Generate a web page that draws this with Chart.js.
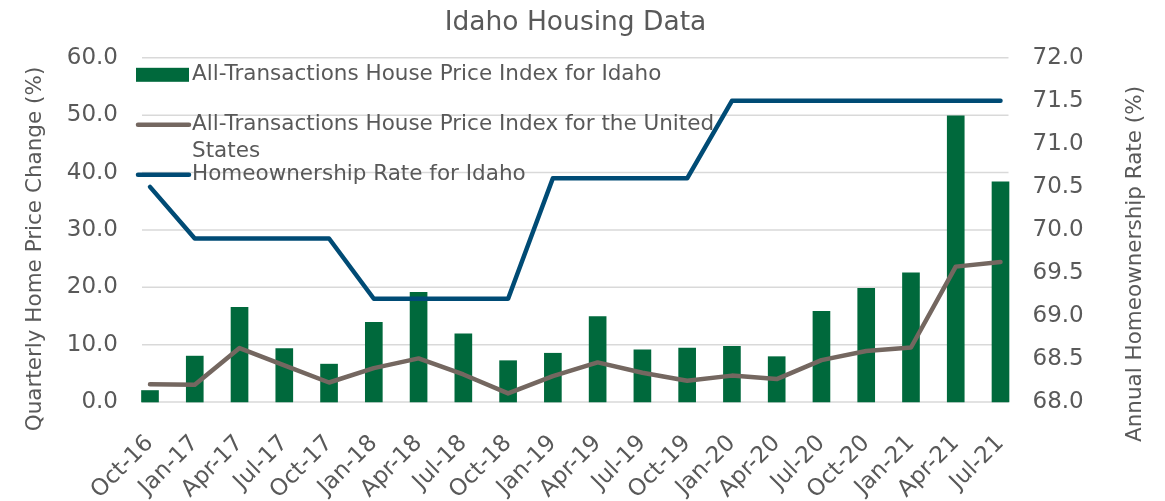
<!DOCTYPE html>
<html>
<head>
<meta charset="utf-8">
<title>Idaho Housing Data</title>
<script src="https://cdn.jsdelivr.net/npm/chart.js@4"></script>
<style>
    body { margin: 0; background: #fff; }
    #wrap { width: 1165px; height: 501px; position: relative; }
</style>
</head>
<body>
<div id="wrap"><canvas id="housingChart"></canvas></div>
<script>
const quarters = ['Oct-16', 'Jan-17', 'Apr-17', 'Jul-17', 'Oct-17', 'Jan-18', 'Apr-18', 'Jul-18', 'Oct-18', 'Jan-19',
    'Apr-19', 'Jul-19', 'Oct-19', 'Jan-20', 'Apr-20', 'Jul-20', 'Oct-20', 'Jan-21', 'Apr-21', 'Jul-21'];

// quarterly price change (%), left axis
const idahoHpi = [2.0, 8.0, 16.5, 9.3, 6.6, 13.9, 19.1, 11.9, 7.2, 8.5, 14.9, 9.1, 9.4, 9.7, 7.9, 15.8, 19.8, 22.5, 49.9, 38.4];
const usHpi = [3.1, 3.0, 9.4, 6.4, 3.4, 5.9, 7.6, 4.8, 1.5, 4.5, 6.9, 5.1, 3.7, 4.6, 4.0, 7.3, 8.9, 9.5, 23.6, 24.4];

// homeownership rate (%), right axis
const ownershipRate = [70.5, 69.9, 69.9, 69.9, 69.9, 69.2, 69.2, 69.2, 69.2, 70.6, 70.6, 70.6, 70.6, 71.5, 71.5, 71.5, 71.5, 71.5, 71.5, 71.5];

const leftTicks = { min: 0, max: 60, step: 10 };
const rightTicks = { min: 68, max: 72, step: 0.5 };

const chartTitle = 'Idaho Housing Data';
const leftAxisTitle = 'Quarterly Home Price Change (%)';
const rightAxisTitle = 'Annual Homeownership Rate (%)';

const textColor = '#595959';
const fontFamily = '"DejaVu Sans", Verdana, sans-serif';

// gridlines, legend (under the series) and axis titles
const overlay = {
    id: 'overlay',
    beforeDatasetsDraw(chart) {
        const { ctx, chartArea } = chart;
        const yScale = chart.scales.y;
        ctx.save();
        ctx.strokeStyle = '#d9d9d9';
        ctx.lineWidth = 1.5;
        yScale.ticks.forEach(tick => {
            const py = yScale.getPixelForValue(tick.value);
            ctx.beginPath();
            ctx.moveTo(chartArea.left - 8, py);
            ctx.lineTo(chartArea.right + 8, py);
            ctx.stroke();
        });

        // legend inside the plot, one entry per row
        const rowTops = [17, 67, 117];
        const x0 = chartArea.left - 14;
        const swatchW = 53;
        ctx.font = '21.5px ' + fontFamily;
        ctx.textBaseline = 'middle';
        ctx.textAlign = 'left';
        chart.data.datasets.forEach((ds, i) => {
            const cy = chartArea.top + rowTops[i];
            if (ds.type === 'bar') {
                ctx.fillStyle = ds.backgroundColor;
                ctx.fillRect(x0, cy - 7, swatchW, 14);
            } else {
                ctx.strokeStyle = ds.borderColor;
                ctx.lineWidth = 4.5;
                ctx.lineCap = 'round';
                ctx.beginPath();
                ctx.moveTo(x0 + 2, cy);
                ctx.lineTo(x0 + swatchW, cy);
                ctx.stroke();
            }
            ctx.fillStyle = textColor;
            const words = ds.label.split(' ');
            let line = '';
            let ly = cy;
            words.forEach(w => {
                const test = line ? line + ' ' + w : w;
                if (ctx.measureText(test).width > 545 && line) {
                    ctx.fillText(line, x0 + swatchW + 3, ly);
                    line = w;
                    ly += 27;
                } else {
                    line = test;
                }
            });
            ctx.fillText(line, x0 + swatchW + 3, ly);
        });
        ctx.restore();
    },
    afterDraw(chart) {
        const { ctx } = chart;
        ctx.save();
        ctx.fillStyle = textColor;
        ctx.textAlign = 'center';
        ctx.textBaseline = 'middle';
        ctx.font = '21.5px ' + fontFamily;
        ctx.translate(35, 249);
        ctx.rotate(-Math.PI / 2);
        ctx.fillText(leftAxisTitle, 0, 0);
        ctx.restore();

        ctx.save();
        ctx.fillStyle = textColor;
        ctx.textAlign = 'center';
        ctx.textBaseline = 'middle';
        ctx.font = '21.5px ' + fontFamily;
        ctx.translate(1135, 264);
        ctx.rotate(-Math.PI / 2);
        ctx.fillText(rightAxisTitle, 0, 0);
        ctx.restore();
    }
};

const ctx = document.getElementById('housingChart').getContext('2d');
new Chart(ctx, {
    data: {
        labels: quarters,
        datasets: [
            {
                type: 'bar',
                label: 'All-Transactions House Price Index for Idaho',
                data: idahoHpi,
                yAxisID: 'y',
                backgroundColor: '#00693c',
                barThickness: 17,
                clip: false,
                order: 10
            },
            {
                type: 'line',
                label: 'All-Transactions House Price Index for the United States',
                data: usHpi,
                yAxisID: 'y',
                borderColor: '#746760',
                borderWidth: 4.5,
                borderCapStyle: 'round',
                borderJoinStyle: 'round',
                pointRadius: 0,
                tension: 0,
                clip: false,
                order: 2
            },
            {
                type: 'line',
                label: 'Homeownership Rate for Idaho',
                data: ownershipRate,
                yAxisID: 'y1',
                borderColor: '#004b75',
                borderWidth: 4.5,
                borderCapStyle: 'round',
                borderJoinStyle: 'round',
                pointRadius: 0,
                tension: 0,
                clip: false,
                order: 1
            }
        ]
    },
    options: {
        responsive: true,
        maintainAspectRatio: false,
        animation: false,
        layout: { padding: { top: 0, right: 14, bottom: 0, left: 0 } },
        plugins: {
            legend: { display: false },
            tooltip: { enabled: false },
            title: {
                display: true,
                text: chartTitle,
                color: textColor,
                font: { family: fontFamily, size: 26.5, weight: 'normal' },
                padding: { top: 7, bottom: 19 }
            }
        },
        scales: {
            x: {
                type: 'category',
                offset: false,
                grid: { display: false, drawTicks: false },
                border: { display: false },
                ticks: {
                    autoSkip: false,
                    minRotation: 45,
                    maxRotation: 45,
                    color: textColor,
                    padding: 28,
                    font: { family: fontFamily, size: 23 }
                },
                afterFit(scale) { scale.height = 99; }
            },
            y: {
                position: 'left',
                min: leftTicks.min,
                max: leftTicks.max,
                grid: { display: false, drawTicks: false },
                border: { display: false },
                ticks: {
                    stepSize: leftTicks.step,
                    padding: 32,
                    color: textColor,
                    font: { family: fontFamily, size: 23 },
                    callback: v => v.toFixed(1)
                },
                afterFit(scale) { scale.width = 150; }
            },
            y1: {
                position: 'right',
                min: rightTicks.min,
                max: rightTicks.max,
                grid: { display: false, drawTicks: false },
                border: { display: false },
                ticks: {
                    stepSize: rightTicks.step,
                    padding: 32,
                    color: textColor,
                    font: { family: fontFamily, size: 23 },
                    callback: v => v.toFixed(1)
                },
                afterFit(scale) { scale.width = 150.5; }
            }
        }
    },
    plugins: [overlay]
});
</script>
</body>
</html>
